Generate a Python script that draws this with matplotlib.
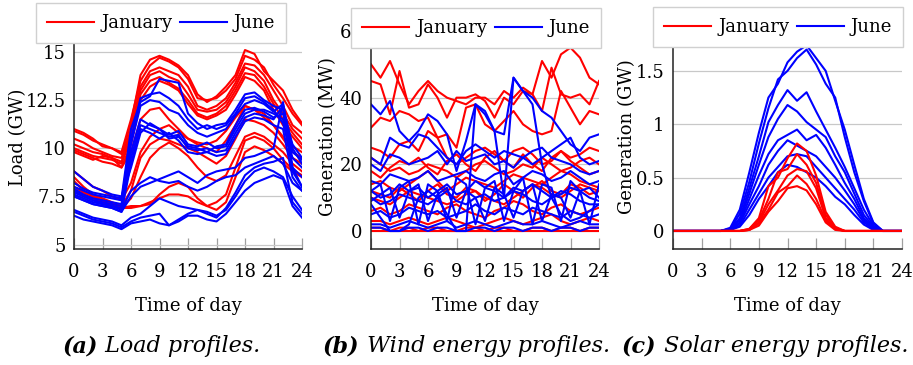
import matplotlib
matplotlib.use("Agg")
import matplotlib.pyplot as plt
from matplotlib.lines import Line2D

# ---------------- data ----------------
hours = list(range(25))
xticks = [0, 3, 6, 9, 12, 15, 18, 21, 24]

# (a) load profiles, GW
load_jan = [
    [10.9, 10.7, 10.4, 10.2, 10.0, 9.8, 11.5, 13.5, 14.3, 14.7, 14.5, 14.2, 13.6, 12.6, 12.5, 12.6, 13.0, 13.6, 14.8, 14.6, 14.2, 13.3, 12.6, 11.8, 11.2],
    [11.0, 10.8, 10.5, 10.1, 10.0, 9.7, 11.3, 13.8, 14.6, 14.8, 14.6, 14.3, 13.8, 12.8, 12.4, 12.7, 13.2, 13.8, 15.1, 14.9, 14.0, 13.5, 13.0, 12.0, 11.3],
    [10.5, 10.3, 10.0, 9.8, 9.6, 9.5, 11.0, 13.2, 14.0, 14.2, 14.0, 13.8, 13.2, 12.2, 12.0, 12.2, 12.6, 13.4, 14.4, 14.3, 13.8, 13.0, 12.2, 11.2, 10.8],
    [10.2, 10.0, 9.8, 9.7, 9.5, 9.3, 10.8, 13.0, 13.8, 14.0, 13.7, 13.5, 12.8, 12.0, 11.9, 12.0, 12.4, 13.2, 14.2, 14.0, 13.5, 12.5, 11.8, 11.0, 10.5],
    [10.0, 9.8, 9.6, 9.5, 9.4, 9.2, 10.5, 12.8, 13.5, 13.7, 13.4, 13.1, 12.5, 11.8, 11.6, 11.8, 12.2, 13.0, 13.9, 13.8, 13.2, 12.3, 11.5, 10.8, 10.2],
    [9.8, 9.6, 9.4, 9.6, 9.5, 9.0, 10.2, 12.5, 13.2, 13.5, 13.3, 13.0, 12.3, 11.7, 11.5, 11.7, 12.0, 12.8, 13.7, 13.5, 13.0, 12.0, 11.2, 10.6, 10.0],
    [8.8, 8.4, 8.0, 7.8, 7.5, 7.3, 8.2, 9.8, 10.6, 11.0, 11.2, 10.8, 10.5, 10.2, 10.0, 9.8, 10.4, 11.2, 12.2, 12.0, 11.6, 11.2, 10.5, 9.8, 9.5],
    [8.5, 8.0, 7.6, 7.4, 7.2, 7.0, 7.8, 9.5, 10.2, 10.5, 10.4, 10.2, 10.0, 9.8, 9.5, 9.2, 9.6, 10.5, 11.5, 11.4, 11.2, 10.8, 10.2, 9.5, 9.2],
    [8.3, 7.8, 7.5, 7.3, 7.1, 6.9, 7.4, 8.5, 9.5, 10.0, 10.3, 10.0, 9.6, 9.0, 8.5, 8.3, 8.6, 9.6, 10.6, 10.8, 10.6, 10.2, 9.8, 9.2, 8.8],
    [7.8, 7.6, 7.4, 7.2, 7.0, 6.9, 7.0, 7.0, 7.2, 7.4, 7.6, 7.6, 7.5, 7.2, 7.0, 6.8, 7.2, 8.5, 9.8, 10.1, 9.9, 9.6, 9.2, 8.8, 8.5],
    [8.0, 7.7, 7.5, 7.3, 7.1, 6.9, 6.9, 7.0, 7.1, 7.6, 8.0, 8.2, 8.0, 7.4, 7.0, 7.2, 7.6, 9.0, 10.4, 10.6, 10.4, 10.0, 9.4, 8.9, 8.6],
    [9.9, 9.7, 9.5, 9.3, 9.2, 9.0, 9.8, 11.5, 12.0, 12.1, 11.5, 11.0, 10.5, 10.3, 10.2, 10.4, 10.9, 11.6, 12.2, 12.0, 11.8, 11.2, 10.6, 10.1, 9.8],
]
load_jun = [
    [8.0, 7.8, 7.6, 7.5, 7.4, 7.3, 10.5, 12.6, 12.8, 12.9, 12.6, 12.2, 11.5, 11.0, 11.2, 11.0, 11.2, 11.8, 12.6, 12.7, 12.4, 12.0, 11.3, 9.5, 9.0],
    [8.2, 7.9, 7.7, 7.6, 7.5, 7.4, 11.0, 12.4, 12.7, 13.6, 13.5, 13.4, 11.8, 11.3, 11.0, 11.2, 11.3, 12.0, 12.8, 12.9, 12.5, 12.2, 12.0, 10.2, 9.5],
    [7.9, 7.6, 7.4, 7.3, 7.2, 7.1, 10.2, 12.2, 12.5, 12.4, 12.0, 11.8, 11.2, 10.8, 10.6, 10.8, 11.0, 11.7, 12.3, 12.5, 12.3, 11.9, 12.3, 10.0, 9.2],
    [7.7, 7.5, 7.3, 7.2, 7.1, 7.0, 9.8, 11.5, 11.2, 11.0, 10.7, 10.9, 10.2, 10.1, 10.3, 10.0, 10.1, 11.0, 11.8, 12.0, 12.0, 11.8, 11.5, 9.0, 8.5],
    [7.6, 7.4, 7.2, 7.1, 7.0, 6.9, 9.5, 11.2, 11.0, 10.8, 10.6, 10.7, 10.0, 9.9, 10.0, 9.8, 9.9, 10.8, 11.6, 11.8, 11.7, 11.5, 12.2, 8.8, 8.0],
    [7.5, 7.3, 7.1, 7.0, 6.9, 6.7, 9.2, 11.0, 10.8, 10.5, 10.8, 10.4, 9.8, 9.7, 9.8, 9.6, 9.7, 10.6, 11.4, 11.6, 11.5, 11.2, 11.0, 8.5, 7.8],
    [8.8, 8.4, 8.0, 7.8, 7.6, 7.5, 9.0, 10.8, 11.3, 11.0, 10.5, 10.6, 10.1, 10.0, 9.8, 10.1, 10.2, 11.2, 12.0, 12.1, 11.9, 11.6, 11.8, 9.8, 9.4],
    [7.8, 7.5, 7.3, 7.1, 7.0, 6.8, 7.8, 8.2, 8.5, 8.3, 8.2, 8.3, 8.0, 7.8, 8.0, 8.3, 8.5, 8.6, 9.0, 9.2, 9.4, 9.6, 9.2, 8.2, 7.8],
    [6.8, 6.6, 6.4, 6.3, 6.2, 6.0, 6.4, 6.6, 7.0, 7.4, 7.2, 7.0, 6.9, 6.8, 6.7, 6.5, 6.8, 7.5, 8.3, 8.8, 9.0, 8.8, 8.5, 7.5, 6.8],
    [6.5, 6.3, 6.2, 6.1, 6.0, 5.8, 6.1, 6.2, 6.3, 6.1, 6.0, 6.2, 6.5, 6.5, 6.3, 6.2, 6.6, 7.2, 7.8, 8.2, 8.4, 8.6, 8.4, 7.0, 6.4],
    [6.7, 6.5, 6.3, 6.2, 6.1, 5.9, 6.2, 6.4, 6.5, 6.6, 6.0, 6.3, 6.6, 6.8, 6.6, 6.4, 6.9, 7.7, 8.6, 9.0, 9.2, 9.3, 9.5, 7.2, 6.6],
    [7.5, 7.3, 7.1, 7.0, 6.9, 6.7, 7.5, 8.0, 8.2, 8.4, 8.6, 8.8, 8.5, 8.2, 8.6, 8.8, 8.9, 9.0, 9.5, 9.6, 9.8, 10.0, 12.4, 9.0, 8.0],
]

# (b) wind generation, MW
wind_jan = [
    [50, 46, 51, 44, 38, 42, 45, 42, 40, 39, 38, 40, 40, 38, 42, 40, 43, 41, 51, 46, 53, 55, 52, 46, 44],
    [45, 44, 35, 48, 37, 38, 44, 40, 34, 40, 40, 41, 39, 34, 40, 38, 42, 41, 36, 49, 41, 40, 41, 38, 45],
    [31, 34, 33, 36, 35, 33, 34, 28, 29, 25, 37, 38, 32, 30, 33, 36, 32, 30, 29, 30, 42, 37, 32, 36, 35],
    [25, 24, 22, 26, 27, 24, 30, 28, 22, 20, 22, 24, 25, 23, 21, 24, 25, 23, 20, 21, 24, 22, 23, 25, 24],
    [22, 20, 18, 19, 17, 18, 20, 19, 18, 16, 18, 20, 21, 19, 17, 18, 20, 19, 22, 20, 18, 19, 21, 22, 20],
    [18, 16, 19, 21, 20, 22, 19, 17, 21, 23, 20, 18, 22, 24, 21, 19, 23, 20, 18, 22, 24, 21, 19, 17, 18],
    [14, 15, 13, 12, 14, 16, 18, 15, 12, 14, 16, 15, 14, 13, 15, 17, 16, 15, 14, 16, 18, 17, 15, 14, 13],
    [12, 11, 10, 13, 11, 9, 12, 14, 11, 10, 13, 12, 9, 11, 14, 12, 10, 13, 15, 12, 11, 14, 13, 11, 12],
    [10, 9, 8, 10, 12, 11, 10, 9, 8, 9, 11, 12, 10, 9, 8, 10, 12, 14, 13, 11, 10, 12, 14, 13, 12],
    [6, 7, 5, 6, 8, 7, 6, 5, 7, 8, 6, 5, 4, 6, 7, 9, 8, 6, 5, 7, 8, 6, 5, 6, 7],
    [3, 3, 2, 3, 4, 3, 2, 3, 4, 3, 2, 1, 2, 3, 4, 3, 2, 3, 4, 5, 3, 2, 3, 4, 3],
    [1, 1, 0, 1, 1, 0, 1, 1, 0, 0, 1, 1, 0, 1, 1, 0, 0, 1, 1, 0, 1, 1, 0, 1, 1],
    [0, 0, 0, 0, 0, 0, 0, 0, 0, 0, 0, 0, 0, 0, 0, 0, 0, 0, 0, 0, 0, 0, 0, 0, 0],
]
wind_jun = [
    [38, 35, 39, 30, 27, 30, 35, 33, 29, 18, 27, 38, 35, 30, 29, 46, 42, 40, 36, 34, 30, 26, 24, 28, 29],
    [22, 20, 28, 26, 25, 29, 28, 25, 22, 20, 24, 26, 24, 22, 24, 23, 22, 20, 22, 24, 26, 28, 22, 20, 21],
    [20, 18, 23, 22, 20, 21, 22, 24, 20, 24, 21, 22, 23, 20, 21, 19, 22, 24, 25, 22, 21, 20, 18, 17, 18],
    [15, 14, 17, 16, 15, 16, 18, 15, 16, 17, 18, 16, 15, 17, 18, 14, 16, 18, 17, 15, 16, 18, 16, 14, 15],
    [12, 10, 11, 14, 12, 13, 10, 12, 14, 11, 12, 15, 13, 12, 10, 13, 12, 14, 12, 10, 11, 13, 12, 10, 9],
    [10, 8, 9, 11, 10, 9, 8, 10, 12, 9, 8, 10, 11, 9, 10, 12, 11, 9, 8, 10, 12, 11, 9, 8, 8],
    [8, 4, 0, 0, 2, 10, 12, 10, 5, 0, 0, 38, 36, 30, 10, 46, 42, 38, 20, 10, 5, 3, 4, 6, 8],
    [12, 14, 3, 13, 15, 2, 14, 12, 3, 16, 14, 2, 13, 15, 3, 12, 16, 2, 14, 13, 3, 15, 12, 2, 14],
    [9, 11, 13, 4, 12, 14, 3, 11, 13, 4, 12, 10, 3, 13, 11, 4, 12, 14, 3, 11, 10, 4, 12, 13, 10],
    [5, 6, 4, 5, 7, 6, 5, 6, 4, 5, 6, 8, 6, 5, 7, 6, 5, 7, 6, 5, 4, 6, 5, 4, 5],
    [2, 2, 1, 2, 3, 2, 1, 2, 3, 1, 2, 3, 2, 1, 2, 3, 2, 2, 3, 2, 1, 2, 3, 2, 2],
    [1, 1, 0, 0, 1, 1, 0, 1, 1, 0, 0, 1, 1, 0, 1, 1, 0, 1, 1, 0, 1, 1, 0, 1, 1],
]

# (c) solar generation, GW
solar_jan = [
    [0, 0, 0, 0, 0, 0, 0, 0, 0.02, 0.12, 0.42, 0.5, 0.68, 0.82, 0.75, 0.52, 0.18, 0.04, 0, 0, 0, 0, 0, 0, 0],
    [0, 0, 0, 0, 0, 0, 0, 0, 0.02, 0.1, 0.3, 0.55, 0.58, 0.72, 0.62, 0.45, 0.15, 0.03, 0, 0, 0, 0, 0, 0, 0],
    [0, 0, 0, 0, 0, 0, 0, 0, 0.01, 0.08, 0.25, 0.38, 0.52, 0.58, 0.56, 0.4, 0.12, 0.02, 0, 0, 0, 0, 0, 0, 0],
    [0, 0, 0, 0, 0, 0, 0, 0, 0.01, 0.07, 0.2, 0.36, 0.42, 0.52, 0.44, 0.3, 0.1, 0.02, 0, 0, 0, 0, 0, 0, 0],
    [0, 0, 0, 0, 0, 0, 0, 0, 0.01, 0.05, 0.18, 0.28, 0.4, 0.42, 0.38, 0.25, 0.08, 0.01, 0, 0, 0, 0, 0, 0, 0],
]
solar_jun = [
    [0, 0, 0, 0, 0, 0, 0.03, 0.2, 0.55, 0.92, 1.25, 1.38, 1.58, 1.68, 1.74, 1.62, 1.5, 1.22, 0.95, 0.62, 0.3, 0.08, 0, 0, 0],
    [0, 0, 0, 0, 0, 0, 0.02, 0.16, 0.46, 0.82, 1.15, 1.42, 1.5, 1.62, 1.7, 1.56, 1.38, 1.25, 0.88, 0.55, 0.28, 0.07, 0, 0, 0],
    [0, 0, 0, 0, 0, 0, 0.02, 0.12, 0.4, 0.7, 1.02, 1.18, 1.32, 1.22, 1.3, 1.12, 0.95, 0.78, 0.6, 0.4, 0.2, 0.05, 0, 0, 0],
    [0, 0, 0, 0, 0, 0, 0.02, 0.1, 0.35, 0.62, 0.88, 1.05, 1.18, 1.12, 1.02, 0.95, 0.88, 0.7, 0.55, 0.35, 0.15, 0.04, 0, 0, 0],
    [0, 0, 0, 0, 0, 0, 0.01, 0.08, 0.3, 0.52, 0.72, 0.85, 0.9, 0.95, 0.85, 0.9, 0.78, 0.62, 0.45, 0.3, 0.12, 0.03, 0, 0, 0],
    [0, 0, 0, 0, 0, 0, 0.01, 0.07, 0.25, 0.42, 0.62, 0.75, 0.85, 0.8, 0.75, 0.7, 0.6, 0.5, 0.38, 0.25, 0.1, 0.02, 0, 0, 0],
    [0, 0, 0, 0, 0, 0, 0.01, 0.05, 0.2, 0.35, 0.5, 0.6, 0.7, 0.72, 0.7, 0.6, 0.5, 0.4, 0.3, 0.2, 0.08, 0.02, 0, 0, 0],
    [0, 0, 0, 0, 0, 0, 0.01, 0.04, 0.15, 0.3, 0.42, 0.55, 0.62, 0.6, 0.55, 0.5, 0.42, 0.32, 0.25, 0.15, 0.06, 0.01, 0, 0, 0],
]

load_yticks = [5, 7.5, 10, 12.5, 15]
load_yticklabels = ["5", "7.5", "10", "12.5", "15"]
wind_yticks = [0, 20, 40, 60]
wind_yticklabels = ["0", "20", "40", "60"]
solar_yticks = [0, 0.5, 1, 1.5]
solar_yticklabels = ["0", "0.5", "1", "1.5"]

# ---------------- style ----------------
plt.rcParams["font.family"] = ["DejaVu Serif"]
RED = "#ff0000"
BLUE = "#0000ff"
LW = 1.5

W, H = 913, 365
fig = plt.figure(figsize=(W / 100, H / 100), dpi=100)


def make_ax(l, r, top, bottom):
    return fig.add_axes([l / W, 1 - bottom / H, (r - l) / W, (bottom - top) / H])


def style(ax, ylim, yticks, yticklabels, ylabel, ylabel_x):
    ax.set_xlim(0, 24)
    ax.set_ylim(*ylim)
    ax.set_xticks(xticks)
    ax.set_yticks(yticks)
    ax.set_yticklabels(yticklabels)
    for s in ["top", "right"]:
        ax.spines[s].set_visible(False)
    for s in ["left", "bottom"]:
        ax.spines[s].set_linewidth(1.1)
        ax.spines[s].set_color("#222222")
    ax.tick_params(axis="x", direction="in", length=8, width=0.9, color="#a0a0a0",
                   labelsize=13, pad=10)
    ax.tick_params(axis="y", length=0, labelsize=13, pad=6)
    ax.grid(axis="y", color="#c8c8c8", lw=0.9)
    ax.set_axisbelow(True)
    ax.set_ylabel(ylabel, fontsize=13)
    ax.yaxis.set_label_coords(ylabel_x, 0.5)
    ax.set_xlabel("Time of day", fontsize=13)
    ax.xaxis.set_label_coords(0.5, -0.215)


ax1 = make_ax(74, 302, 25, 249)
for y in load_jan:
    ax1.plot(hours, y, color=RED, lw=LW)
for y in load_jun:
    ax1.plot(hours, y, color=BLUE, lw=LW)
style(ax1, (4.77, 16.4), load_yticks, load_yticklabels, "Load (GW)", -0.205)

ax2 = make_ax(371, 599, 25, 249)
for y in wind_jan:
    ax2.plot(hours, y, color=RED, lw=LW)
for y in wind_jun:
    ax2.plot(hours, y, color=BLUE, lw=LW)
style(ax2, (-5.4, 61.8), wind_yticks, wind_yticklabels, "Generation (MW)", -0.15)

ax3 = make_ax(673, 902, 25, 249)
for y in solar_jun:
    ax3.plot(hours, y, color=BLUE, lw=LW)
for y in solar_jan:
    ax3.plot(hours, y, color=RED, lw=LW)
style(ax3, (-0.169, 1.93), solar_yticks, solar_yticklabels, "Generation (GW)", -0.16)

handles = [Line2D([], [], color=RED, lw=LW), Line2D([], [], color=BLUE, lw=LW)]
labels = ["January", "June"]
for x0, y0 in [(36, 3), (351, 8), (653, 7)]:
    leg = fig.legend(handles, labels, loc="upper left",
                     bbox_to_anchor=(x0 / W, 1 - y0 / H), ncol=2, fontsize=13,
                     frameon=True, fancybox=False, edgecolor="#d0d0d0",
                     framealpha=1, borderpad=0.62, handlelength=2.6,
                     handletextpad=0.4, columnspacing=0.4, borderaxespad=0)
    leg.get_frame().set_linewidth(1.0)

# captions: bold-italic tag + italic text
fig.canvas.draw()
renderer = fig.canvas.get_renderer()
captions = [("(a)", " Load profiles.", 63), ("(b)", " Wind energy profiles.", 323),
            ("(c)", " Solar energy profiles.", 622)]
for tag, rest, x0 in captions:
    t = fig.text(x0 / W, 1 - 352 / H, tag, fontsize=16, fontstyle="italic",
                 fontweight="bold", va="baseline", ha="left")
    bb = t.get_window_extent(renderer)
    fig.text(bb.x1 / W, 1 - 352 / H, rest, fontsize=16, fontstyle="italic",
             va="baseline", ha="left")

fig.savefig("out.png", dpi=100)
